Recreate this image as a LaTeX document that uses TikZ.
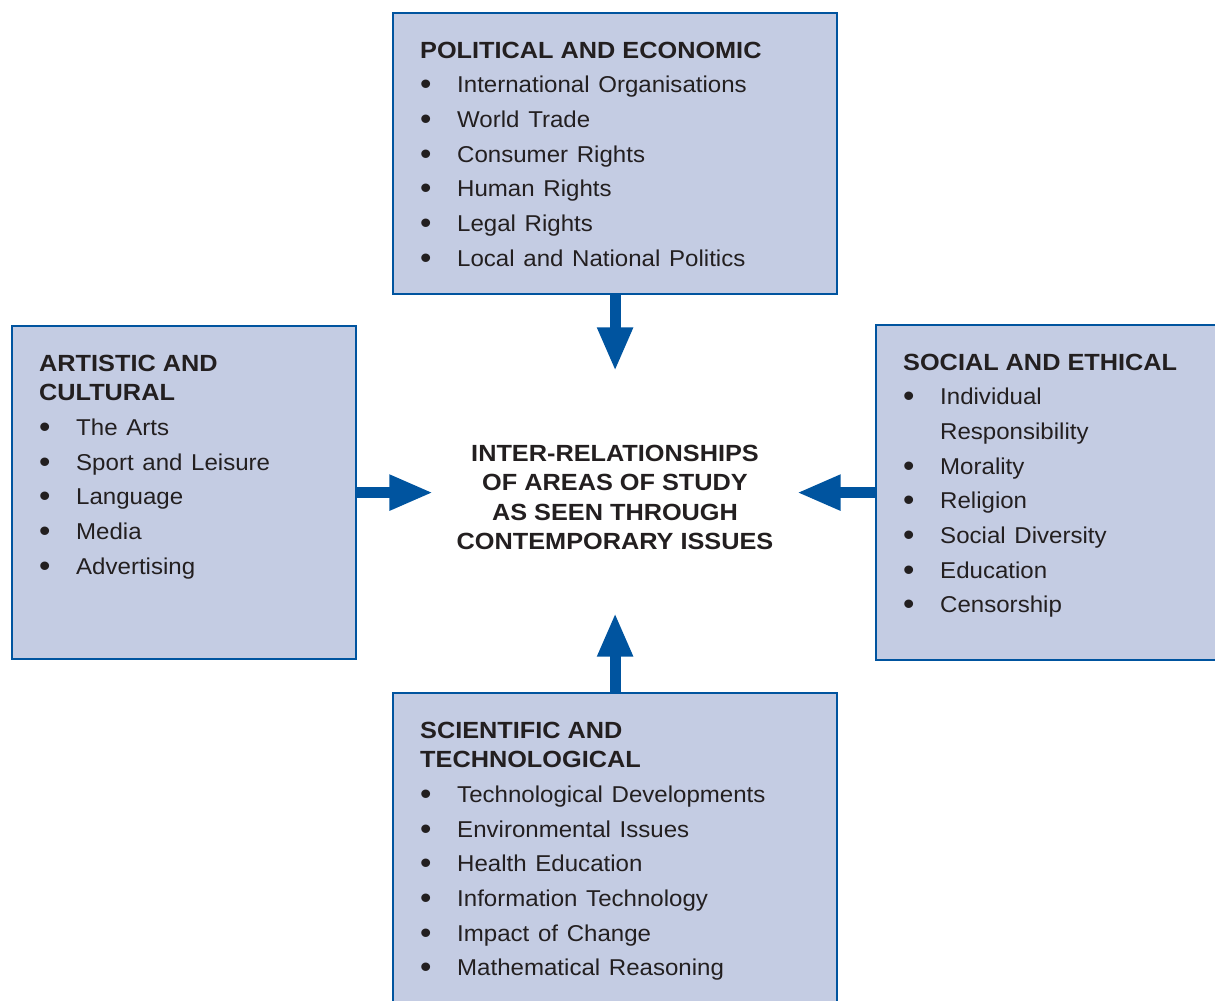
\documentclass[tikz,border=0pt]{standalone}
\usepackage{fontspec}
\setmainfont{Liberation Sans}[FakeStretch=1.05, WordSpace=1.3]
\newfontfamily\headfont[FakeStretch=1.08, WordSpace=1.3]{Liberation Sans}
\newfontfamily\centrefont[FakeStretch=1.08]{Liberation Sans}
\usetikzlibrary{arrows.meta}

\definecolor{boxfill}{RGB}{196,204,227}
\definecolor{boxblue}{RGB}{0,84,159}
\definecolor{inkgray}{RGB}{35,31,32}

\newcommand\areahead[1]{{\headfont\bfseries\fontsize{23.5}{30}\selectfont\spaceskip=0pt\xspaceskip=0pt #1\par}}
\newcommand\areaitem[1]{{\fontsize{23}{34.8}\selectfont\spaceskip=0pt\xspaceskip=0pt
  \hangindent=37bp\hangafter=1\noindent
  \makebox[37bp][l]{\raisebox{-2bp}{\scalebox{1.35}{\textbullet}}}#1\par}}
\newcommand\areabreak{\hfil\break}

\tikzset{
  areabox/.style={draw=boxblue, fill=boxfill, line width=2.2bp, anchor=north west, inner sep=0pt},
  areatext/.style={anchor=north west, inner sep=0pt, text width=400bp, align=left, text=inkgray},
  flow/.style={draw=boxblue, line width=11bp, -{Triangle[length=44bp,width=33bp]}},
}

\begin{document}
\begin{tikzpicture}[x=1bp,y=1bp]
    \useasboundingbox (0,0) rectangle (1215,-1001);

    % the four areas of study
    \node[areabox, minimum width=444bp, minimum height=281bp] (pol) at (392,-12) {};
    \node[areabox, minimum width=344bp, minimum height=333bp] (art) at (11,-325) {};
    \node[areabox, minimum width=352bp, minimum height=335bp] (soc) at (875,-324) {};
    \node[areabox, minimum width=444bp, minimum height=320bp] (sci) at (392,-692) {};

    \node[areatext] (poltext) at ([shift={(28,-29.5)}]pol.north west) {%
        \areahead{POLITICAL AND ECONOMIC}
        \areaitem{International Organisations}
        \areaitem{World Trade}
        \areaitem{Consumer Rights}
        \areaitem{Human Rights}
        \areaitem{Legal Rights}
        \areaitem{Local and National Politics}};
    \node[areatext] (arttext) at ([shift={(28,-29.5)}]art.north west) {%
        \areahead{ARTISTIC AND\areabreak CULTURAL}
        \areaitem{The Arts}
        \areaitem{Sport and Leisure}
        \areaitem{Language}
        \areaitem{Media}
        \areaitem{Advertising}};
    \node[areatext] (soctext) at ([shift={(28,-29.5)}]soc.north west) {%
        \areahead{SOCIAL AND ETHICAL}
        \areaitem{Individual\areabreak Responsibility}
        \areaitem{Morality}
        \areaitem{Religion}
        \areaitem{Social Diversity}
        \areaitem{Education}
        \areaitem{Censorship}};
    \node[areatext] (scitext) at ([shift={(28,-29.5)}]sci.north west) {%
        \areahead{SCIENTIFIC AND\areabreak TECHNOLOGICAL}
        \areaitem{Technological Developments}
        \areaitem{Environmental Issues}
        \areaitem{Health Education}
        \areaitem{Information Technology}
        \areaitem{Impact of Change}
        \areaitem{Mathematical Reasoning}};

    % centre
    \node[align=center, inner sep=0pt, minimum width=363bp, minimum height=241bp, text=inkgray,
        font=\centrefont\bfseries\fontsize{23.5}{29.5}\selectfont] (issues) at (615,-492)
        {\rule{0pt}{27bp}INTER-RELATIONSHIPS\\OF AREAS OF STUDY\\AS SEEN THROUGH\\CONTEMPORARY ISSUES};

    % arrows into the centre
    \draw[flow] (pol.south) -- (pol.south |- issues.north);
    \draw[flow] (art.east) -- (art.east -| issues.west);
    \draw[flow] (soc.west) -- (soc.west -| issues.east);
    \draw[flow] (sci.north) -- (sci.north |- issues.south);
\end{tikzpicture}
\end{document}
